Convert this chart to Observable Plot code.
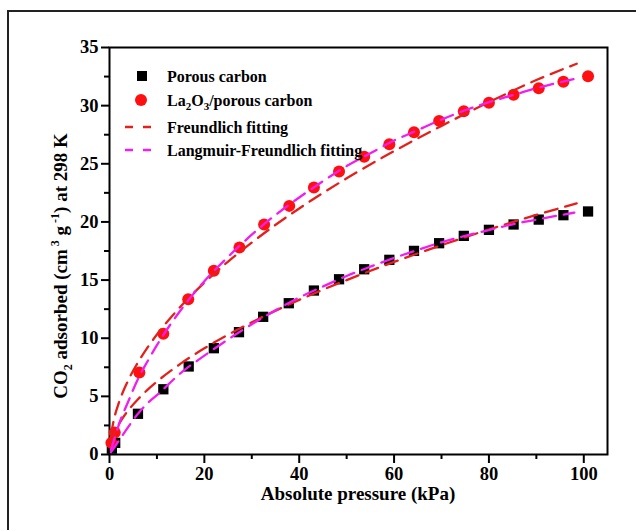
<!DOCTYPE html>
<html><head><meta charset="utf-8">
<script src="https://cdn.jsdelivr.net/npm/d3@7"></script>
<script src="https://cdn.jsdelivr.net/npm/@observablehq/plot@0.6"></script>
<style>
body{margin:0;background:#fff;overflow:hidden;}
#wrap{position:relative;width:636px;height:530px;overflow:hidden;background:#fff;}
#border{position:absolute;left:7px;top:10px;width:700px;height:600px;border-left:2px solid #222;border-top:2px solid #222;}
#chart{position:absolute;left:0;top:0;}
</style></head><body>
<div id="wrap"><div id="border"></div><div id="chart"></div></div>
<script>
// ---- data ----
const pressureCarbon = [0.5, 1.2, 6.0, 11.35, 16.7, 22.0, 27.3, 32.4, 37.8, 43.1, 48.4, 53.7, 59.0, 64.2, 69.5, 74.7, 80.0, 85.2, 90.5, 95.7, 100.9];
const adsorbedCarbon = [0.5, 1.0, 3.5, 5.61, 7.57, 9.14, 10.52, 11.84, 13.01, 14.1, 15.07, 15.93, 16.74, 17.51, 18.17, 18.8, 19.32, 19.78, 20.2, 20.58, 20.9];

const pressureLa = [0.4, 1.1, 6.3, 11.35, 16.6, 22.0, 27.4, 32.6, 37.9, 43.1, 48.4, 53.7, 59.0, 64.2, 69.5, 74.7, 80.0, 85.2, 90.5, 95.7, 100.9];
const adsorbedLa = [1.0, 1.9, 7.05, 10.38, 13.35, 15.8, 17.8, 19.78, 21.38, 22.96, 24.33, 25.6, 26.68, 27.71, 28.69, 29.52, 30.24, 30.93, 31.5, 32.05, 32.53];

const fitPressureF = [0.3, 1, 2, 4, 6, 8, 10, 15, 20, 25, 30, 40, 50, 60, 70, 80, 90, 98.5];
const freundlichCarbon = [0.94, 1.8, 2.62, 3.82, 4.75, 5.56, 6.27, 7.81, 9.13, 10.3, 11.37, 13.3, 15.0, 16.56, 18.0, 19.35, 20.6, 21.6];
const freundlichLa = [1.68, 3.13, 4.48, 6.42, 7.92, 9.19, 10.32, 12.73, 14.78, 16.59, 18.23, 21.16, 23.75, 26.09, 28.26, 30.3, 32.2, 33.6];

const fitPressureLF = [0.3, 1, 2, 4, 6, 8, 10, 15, 20, 25, 30, 35, 40, 45, 50, 55, 60, 65, 70, 75, 80, 85, 90, 98];
const lfCarbon = [0.2, 0.6, 1.2, 2.4, 3.5, 4.4, 5.1, 7.0, 8.5, 9.9, 11.2, 12.4, 13.5, 14.45, 15.35, 16.15, 16.9, 17.6, 18.25, 18.8, 19.3, 19.8, 20.2, 20.8];
const lfLa = [0.4, 1.3, 2.6, 4.6, 6.5, 8.0, 9.4, 12.4, 14.9, 17.0, 18.9, 20.6, 22.1, 23.5, 24.8, 25.9, 27.0, 27.9, 28.8, 29.6, 30.3, 30.9, 31.5, 32.3];

const xTicks = [0, 20, 40, 60, 80, 100];
const xMinorTicks = [10, 30, 50, 70, 90];
const yTicks = [0, 5, 10, 15, 20, 25, 30, 35];
const yMinorTicks = [2.5, 7.5, 12.5, 17.5, 22.5, 27.5, 32.5];

const legendLabels = ["Porous carbon", "La2O3/porous carbon", "Freundlich fitting", "Langmuir-Freundlich fitting"];
const xLabel = "Absolute pressure (kPa)";

// ---- build tables ----
const zip = (xs, ys) => xs.map((x, i) => ({x, y: ys[i]}));
const carbon = zip(pressureCarbon, adsorbedCarbon);
const la = zip(pressureLa, adsorbedLa);
const fC = zip(fitPressureF, freundlichCarbon);
const fL = zip(fitPressureF, freundlichLa);
const lfC = zip(fitPressureLF, lfCarbon);
const lfL = zip(fitPressureLF, lfLa);

const font = "'Liberation Serif', 'Times New Roman', serif";
const RED = "#ff1010", DASHRED = "#e4201c", MAG = "#f01ef0";
const dash = "13,8";
const lw = 2.3;

const svg = Plot.plot({
  width: 636, height: 530,
  marginLeft: 109, marginRight: 29, marginTop: 47, marginBottom: 76,
  style: {fontFamily: font, fontSize: "18px", fontWeight: "bold", color: "#000", background: "transparent", overflow: "visible"},
  x: {domain: [0, 105]},
  y: {domain: [0, 35]},
  marks: [
    Plot.axisX({ticks: xMinorTicks, tickSize: 5, strokeWidth: 2, tickFormat: () => "", label: null}),
    Plot.axisX({ticks: xTicks, tickSize: 9, strokeWidth: 2, tickPadding: 3, fontSize: 18.5, label: null}),
    Plot.axisY({ticks: yMinorTicks, tickSize: 5, strokeWidth: 2, tickFormat: () => "", label: null}),
    Plot.axisY({ticks: yTicks, tickSize: 8, strokeWidth: 2, tickPadding: 3, fontSize: 18.5, label: null}),
    Plot.frame({stroke: "#000", strokeWidth: 2}),
    Plot.dot(carbon, {x: "x", y: "y", symbol: "square", r: 5.8, fill: "#000", stroke: "none"}),
    Plot.dot(la, {x: "x", y: "y", symbol: "circle", r: 6, fill: RED, stroke: "none"}),
    Plot.line(fC, {x: "x", y: "y", stroke: DASHRED, strokeWidth: lw, strokeDasharray: dash, curve: "monotone-x"}),
    Plot.line(fL, {x: "x", y: "y", stroke: DASHRED, strokeWidth: lw, strokeDasharray: dash, curve: "monotone-x"}),
    Plot.line(lfC, {x: "x", y: "y", stroke: MAG, strokeWidth: lw, strokeDasharray: dash, curve: "monotone-x"}),
    Plot.line(lfL, {x: "x", y: "y", stroke: MAG, strokeWidth: lw, strokeDasharray: dash, curve: "monotone-x"})
  ]
});
document.getElementById("chart").appendChild(svg);

const s = d3.select(svg);
// x axis label
s.append("text").attr("x", 358).attr("y", 500).attr("text-anchor", "middle")
  .attr("font-family", font).attr("font-weight", "bold").attr("font-size", 19).attr("fill", "#000")
  .text(xLabel);

// y axis label with sub/superscripts
const yl = s.append("text").attr("transform", "translate(67,266) rotate(-90)").attr("text-anchor", "middle")
  .attr("font-family", font).attr("font-weight", "bold").attr("font-size", 19).attr("fill", "#000");
yl.append("tspan").text("CO");
yl.append("tspan").attr("font-size", 12).attr("dy", 5).text("2");
yl.append("tspan").attr("dy", -5).text(" adsorbed (cm");
yl.append("tspan").attr("font-size", 12).attr("dy", -8).text(" 3");
yl.append("tspan").attr("dy", 8).text(" g");
yl.append("tspan").attr("font-size", 12).attr("dy", -8).text(" -1");
yl.append("tspan").attr("dy", 8).text(") at 298 K");

// legend
const rows = [76, 100, 127, 150];
const lg = s.append("g").attr("font-family", font).attr("font-weight", "bold").attr("font-size", 16)
  .attr("fill", "#000").attr("text-anchor", "start");
lg.append("rect").attr("x", 137).attr("y", rows[0] - 5).attr("width", 10).attr("height", 10).attr("fill", "#000");
lg.append("circle").attr("cx", 141).attr("cy", rows[1]).attr("r", 6).attr("fill", RED);
lg.append("line").attr("x1", 125).attr("x2", 151).attr("y1", rows[2]).attr("y2", rows[2]).attr("stroke", DASHRED).attr("stroke-width", 2.5).attr("stroke-dasharray", "8,10");
lg.append("line").attr("x1", 125).attr("x2", 151).attr("y1", rows[3]).attr("y2", rows[3]).attr("stroke", MAG).attr("stroke-width", 2.5).attr("stroke-dasharray", "8,10");
rows.forEach((ry, i) => {
  const t = lg.append("text").attr("x", 167).attr("y", ry).attr("dy", "0.35em");
  if (i === 1) {
    t.append("tspan").text("La");
    t.append("tspan").attr("font-size", 11).attr("dy", 4).text("2");
    t.append("tspan").attr("dy", -4).text("O");
    t.append("tspan").attr("font-size", 11).attr("dy", 4).text("3");
    t.append("tspan").attr("dy", -4).text("/porous carbon");
  } else {
    t.text(legendLabels[i]);
  }
});
</script>
</body></html>
